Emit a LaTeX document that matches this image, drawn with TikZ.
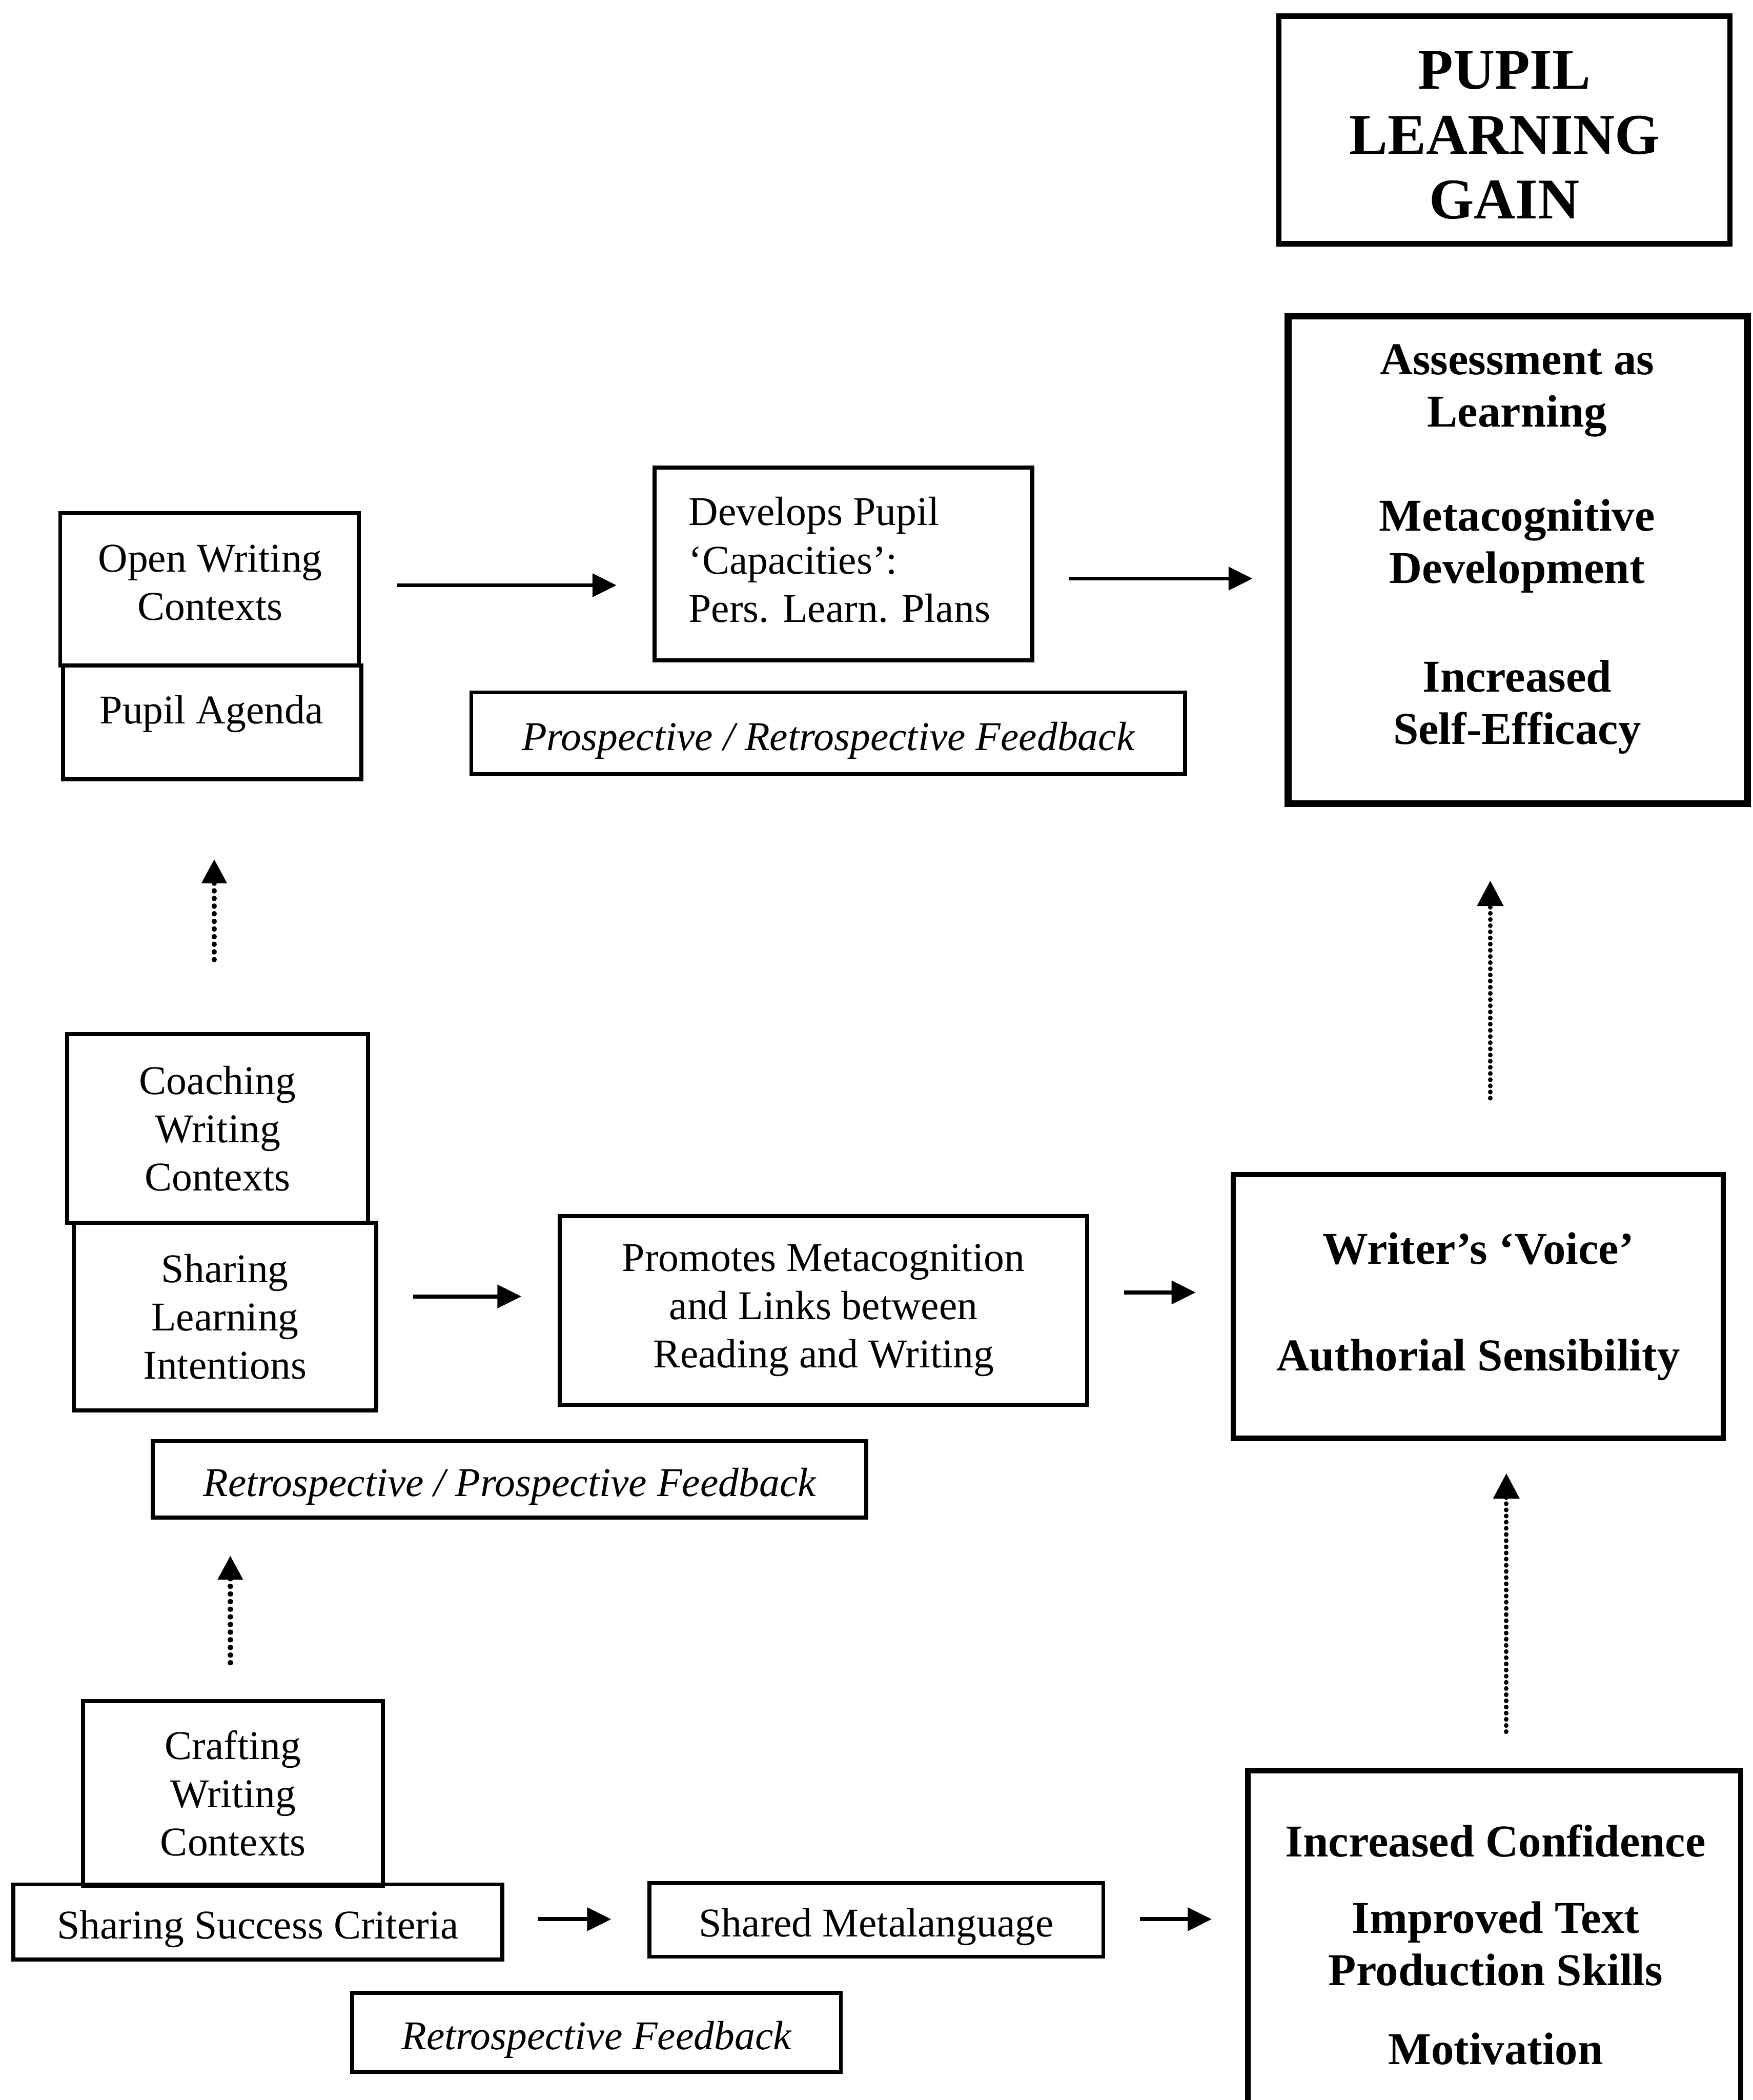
\documentclass[tikz,border=0pt]{standalone}
\usepackage{fontspec}
\setmainfont{Liberation Serif}
\usetikzlibrary{arrows.meta}
\newcommand\fsReg{\fontsize{30.5pt}{36pt}\selectfont}
\newcommand\fsBold{\fontsize{34pt}{39pt}\selectfont\bfseries}
\newcommand\fsGain{\fontsize{43pt}{48.5pt}\selectfont\bfseries}
\newcommand\fsItal{\fontsize{30.5pt}{36pt}\selectfont\itshape}

\begin{document}
\begin{tikzpicture}[x=1pt,y=-1pt,
  box/.style={draw, line width=3pt, rectangle, inner sep=0pt, align=center, font=\fsReg},
  heavybox/.style={box, line width=4pt, font=\fsBold},
  fbbox/.style={box, font=\fsItal},
  oneline/.style={text height=32pt, text depth=6.6pt},
  txt/.style={inner sep=0pt, align=center},
  flow/.style={line width=3pt, -{Triangle[length=18pt,width=17pt]}},
  dotflow/.style={line width=4pt, line cap=round, dash pattern=on 0.1pt off 5.6pt,
                  -{Triangle[length=18pt,width=18pt]}},
  densedot/.style={line width=3.5pt, line cap=round, dash pattern=on 0.1pt off 4.5pt,
                  -{Triangle[length=19pt,width=19pt]}},
]
\useasboundingbox (0,0) rectangle (1309,1568);
\fill[white] (0,0) rectangle (1309,1568);

% right column: outcomes
\node[heavybox, font=\fsGain, minimum width=337pt, minimum height=170pt] (gain) at (1123.5,97) {};
\node[txt, font=\fsGain] (gaintext) at (1123.5,101) {PUPIL\\LEARNING\\GAIN};
\node[heavybox, line width=5pt, minimum width=343pt, minimum height=364pt] (assess) at (1133.5,418) {};
\node[txt, font=\fsBold] (assesstext) at (1133,410)
  {Assessment as\\Learning\\[39pt]Metacognitive\\Development\\[42pt]Increased\\Self-Efficacy};
\node[heavybox, minimum width=366pt, minimum height=197pt] (voice) at (1104,975.5)
  {Writer’s ‘Voice’\\[41pt]Authorial Sensibility};
\node[heavybox, minimum width=368pt, minimum height=278pt] (outcomes) at (1116,1461) {};
\node[txt, font=\fsBold] (outcomestext) at (1117,1452)
  {Increased Confidence\\[18pt]Improved Text\\Production Skills\\[20pt]Motivation};

% top row
\node[box, minimum width=223pt, minimum height=114pt] (open) at (156.5,440) {};
\node[txt, font=\fsReg] (opentext) at (157,435) {Open Writing\\Contexts};
\node[box, minimum width=223pt, minimum height=85pt] (agenda) at (158.5,539.5) {};
\node[txt, font=\fsReg] (agendatext) at (158,533) {Pupil Agenda};
\node[box, minimum width=282pt, minimum height=144pt] (develops) at (630,421) {};
\node[txt, align=left, font=\fsReg] (developstext) at (627,418)
  {Develops Pupil\\‘Capacities’:\\Pers. Learn. Plans};
\node[fbbox, oneline, minimum width=533pt, minimum height=61pt] (prosp) at (618.5,547.5)
  {Prospective / Retrospective Feedback};

% middle row
\node[box, minimum width=225pt, minimum height=141pt] (coach) at (162.5,842.5) {Coaching\\Writing\\Contexts};
\node[box, minimum width=226pt, minimum height=140pt] (sli) at (168,983) {Sharing\\Learning\\Intentions};
\node[box, minimum width=394pt, minimum height=141pt] (promotes) at (615,978.5)
  {Promotes Metacognition\\and Links between\\Reading and Writing};
\node[fbbox, oneline, minimum width=533pt, minimum height=57pt] (retropro) at (380.5,1104.5)
  {Retrospective / Prospective Feedback};

% bottom row
\node[box, minimum width=224pt, minimum height=138pt] (craft) at (174,1339) {Crafting\\Writing\\Contexts};
\node[box, oneline, minimum width=365pt, minimum height=56pt] (ssc) at (192.5,1435) {Sharing Success Criteria};
\node[box, oneline, minimum width=339pt, minimum height=55pt] (meta) at (654.5,1433.5) {Shared Metalanguage};
\node[fbbox, oneline, minimum width=365pt, minimum height=59pt] (retro) at (445.5,1517.5) {Retrospective Feedback};

% horizontal flows
\draw[flow, shorten <=27pt, shorten >=27pt] (open.east |- 0,437) -- (develops.west |- 0,437);
\draw[flow, shorten <=26pt, shorten >=24pt] (develops.east |- 0,432) -- (assess.west |- 0,432);
\draw[flow, shorten <=26pt, shorten >=27pt] (sli.east |- 0,968) -- (promotes.west |- 0,968);
\draw[flow, shorten <=26pt, shorten >=26pt] (promotes.east |- 0,965) -- (voice.west |- 0,965);
\draw[flow, shorten <=25pt, shorten >=27pt] (ssc.east |- 0,1433) -- (meta.west |- 0,1433);
\draw[flow, shorten <=26pt, shorten >=25pt] (meta.east |- 0,1433) -- (outcomes.west |- 0,1433);

% upward progressions
\draw[dotflow, shorten <=54pt, shorten >=58pt] (coach.north -| 160,0) -- (agenda.south -| 160,0);
\draw[dotflow, shorten <=27pt, shorten >=27pt] (craft.north -| 172,0) -- (retropro.south -| 172,0);
\draw[densedot, shorten <=27pt, shorten >=24pt] (outcomes.north -| 1125,0) -- (voice.south -| 1125,0);
\draw[densedot, shorten <=55pt, shorten >=55pt] (voice.north -| 1113,0) -- (assess.south -| 1113,0);
\end{tikzpicture}
\end{document}
